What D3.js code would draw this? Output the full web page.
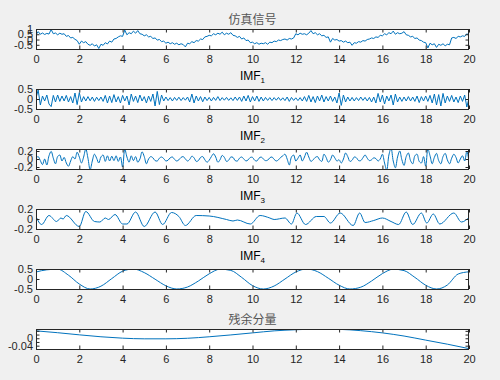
<!DOCTYPE html>
<html><head><meta charset="utf-8">
<script src="https://cdn.jsdelivr.net/npm/d3@7"></script>
<style>html,body{margin:0;padding:0;background:#f0f0f0;} svg{display:block;}</style>
</head><body>
<svg id="chart" width="500" height="380"></svg>
<script>
// ---------- data ----------
const xTicks = [0, 2, 4, 6, 8, 10, 12, 14, 16, 18, 20];
const xTickLabels = ["0","2","4","6","8","10","12","14","16","18","20"];

const sigTitle = "仿真信号";
const sigTicks = [1, 0.5, 0, -0.5];
const sigTickLabels = ["1", "0.5", "0", "-0.5"];
const sigValues = [0.45,0.75,0.50,0.62,0.48,0.58,0.52,0.95,0.55,0.62,
 0.45,0.60,0.50,0.55,0.30,0.38,0.15,0.20,0.02,-0.10,
 -0.45,-0.15,-0.30,-0.20,-0.45,-0.55,-0.40,-0.62,-0.50,-0.85,
 -0.45,-0.55,-0.30,-0.42,-0.15,-0.25,0.05,0.10,0.25,0.35,
 0.30,0.90,0.45,0.65,0.55,0.80,0.60,0.85,0.55,0.50,
 0.35,0.45,0.25,0.30,0.10,0.15,-0.05,0.00,-0.20,-0.15,
 -0.35,-0.25,-0.40,-0.30,-0.45,-0.35,-0.50,-0.40,-0.48,-0.70,
 -0.35,-0.40,-0.20,-0.30,-0.10,-0.15,0.05,0.00,0.25,0.30,
 0.40,0.35,0.55,0.45,0.60,0.50,0.70,0.45,0.60,0.50,
 0.65,0.40,0.35,0.20,0.30,0.05,0.15,-0.10,-0.05,-0.30,
 -0.25,-0.40,-0.30,-0.45,-0.35,-0.40,-0.30,-0.45,-0.25,-0.30,
 -0.15,-0.20,-0.05,-0.10,0.00,0.05,-0.05,0.10,0.05,0.15,
 0.55,0.45,0.60,0.50,0.55,0.45,0.60,0.85,0.55,0.65,
 0.45,0.55,0.35,0.40,0.20,0.25,-0.25,0.10,-0.05,0.00,
 -0.15,-0.10,-0.25,-0.15,-0.30,-0.25,-0.55,-0.30,-0.35,-0.20,
 -0.25,-0.10,-0.15,0.00,0.05,0.15,0.10,0.25,0.20,0.40,
 0.35,0.55,0.45,0.65,0.55,0.80,0.50,0.65,0.55,0.60,
 0.75,0.45,0.40,0.25,0.30,0.10,0.15,-0.05,-0.10,-0.25,
 -0.30,-0.80,-0.35,-0.50,-0.40,-0.75,-0.45,-0.55,-0.40,-0.60,
 -0.45,-0.50,0.15,0.20,0.10,0.30,0.25,0.35,0.30,0.55,
 0.40];

const imf1Ticks = [0.5, 0, -0.5];
const imf1TickLabels = ["0.5", "0", "-0.5"];
const imf1Values = [0.05,0.45,-0.30,0.15,-0.10,0.20,-0.25,-0.38,0.18,-0.15,
 0.20,-0.12,0.15,-0.10,0.18,-0.15,0.12,-0.20,0.30,-0.28,
 0.32,-0.15,0.12,-0.10,0.12,-0.09,0.10,-0.12,0.09,-0.08,
 0.10,-0.12,0.18,-0.20,0.15,-0.18,0.22,-0.15,0.12,-0.20,
 0.18,-0.10,0.15,-0.30,0.25,-0.12,0.15,-0.18,0.20,-0.10,
 0.12,-0.20,0.15,-0.12,0.25,-0.35,0.38,-0.28,0.20,-0.10,
 0.10,-0.08,0.07,-0.10,0.08,-0.07,0.09,-0.08,0.07,-0.06,
 0.10,-0.15,0.25,-0.20,0.15,-0.10,0.12,-0.14,0.10,-0.08,
 0.08,-0.10,0.08,-0.07,0.12,-0.08,0.07,-0.06,0.08,-0.07,
 0.06,-0.08,0.10,-0.07,0.10,-0.12,0.15,-0.10,0.18,-0.15,
 0.12,-0.10,0.15,-0.12,0.10,-0.10,0.08,-0.07,0.07,-0.08,
 0.07,-0.06,0.08,-0.07,0.06,-0.08,0.10,-0.12,0.08,-0.07,
 0.06,-0.08,0.07,-0.10,0.12,-0.12,0.18,-0.15,0.12,-0.18,
 0.15,-0.10,0.20,-0.15,0.12,-0.10,0.15,-0.12,0.10,-0.20,
 0.30,-0.32,0.20,-0.15,0.10,-0.10,0.08,-0.10,0.07,-0.08,
 0.10,-0.07,0.08,-0.10,0.08,-0.15,0.10,-0.20,0.28,-0.15,
 0.20,-0.25,0.15,-0.10,0.20,-0.30,0.25,-0.15,0.10,-0.12,
 0.10,-0.10,0.12,-0.10,0.10,-0.12,0.15,-0.18,0.12,-0.10,
 0.15,-0.12,0.18,-0.20,0.25,-0.30,0.22,-0.35,0.28,-0.20,
 0.15,-0.12,0.18,-0.15,0.10,-0.18,0.15,-0.12,0.20,-0.40,
 0.05];

const imf2Ticks = [0.2, 0, -0.2];
const imf2TickLabels = ["0.2", "0", "-0.2"];
const imf2Values = [0.02,0.06,-0.04,-0.14,0.00,-0.15,0.08,0.19,0.02,-0.12,
 0.06,0.10,-0.05,0.04,-0.10,-0.18,-0.05,0.06,0.00,0.17,
 0.05,-0.10,0.05,0.25,0.02,-0.27,-0.05,0.12,0.02,-0.10,
 0.05,0.10,-0.06,0.08,-0.05,0.07,-0.04,0.08,-0.06,0.05,
 -0.20,0.25,0.05,-0.08,0.08,-0.04,0.06,-0.08,0.00,0.18,
 0.06,-0.12,0.00,0.06,0.03,-0.04,-0.05,0.02,0.05,0.01,
 -0.05,-0.03,0.03,0.05,-0.01,-0.05,-0.02,0.04,0.06,0.00,
 -0.05,-0.01,0.07,0.03,-0.06,-0.04,0.04,0.06,-0.02,-0.08,
 -0.03,0.06,0.13,0.05,-0.08,-0.02,0.09,0.04,-0.06,-0.03,
 0.05,0.04,-0.04,-0.05,0.02,0.05,0.00,-0.05,-0.02,0.04,
 0.04,-0.03,-0.05,0.02,0.05,0.00,-0.04,-0.03,0.03,0.05,
 -0.01,-0.05,-0.02,0.04,0.08,0.12,0.00,-0.15,0.05,0.10,
 -0.05,0.02,0.10,-0.05,0.05,0.17,0.05,-0.06,-0.02,0.04,
 0.06,-0.02,-0.06,0.12,0.04,-0.08,-0.02,0.10,0.03,-0.05,
 -0.02,-0.10,0.00,0.15,0.06,-0.06,-0.03,0.05,0.03,-0.04,
 -0.04,0.03,0.10,0.02,-0.04,-0.02,0.03,0.01,-0.05,0.00,
 0.12,-0.10,-0.28,0.10,0.27,-0.05,-0.22,0.05,0.20,-0.02,
 -0.16,0.06,0.15,-0.04,-0.12,0.08,0.12,-0.06,-0.10,0.06,
 -0.18,0.25,0.08,-0.12,0.04,0.14,-0.04,-0.12,0.06,0.14,
 -0.02,-0.12,0.02,0.12,0.04,-0.10,0.00,0.08,-0.05,0.20,
 -0.08];

const imf3Ticks = [0.2, 0, -0.2];
const imf3TickLabels = ["0.2", "0", "-0.2"];
const imf3X = [0,0.26,0.6,0.95,1.15,1.25,1.4,2.0,2.3,2.7,2.95,3.2,3.35,3.65,4.0,4.2,4.6,5.0,5.5,5.85,
 6.26,6.6,6.9,7.4,8.0,8.8,9.1,9.3,9.9,10.35,10.8,11.0,11.5,11.8,12.05,12.45,12.95,13.3,13.6,14.05,
 14.65,14.95,15.2,15.6,16.0,16.4,16.75,17.1,17.4,17.8,18.05,18.35,18.65,19.3,19.65,20];
const imf3Y = [0.05,-0.11,0.07,-0.05,0.02,0.0,0.07,-0.15,0.15,-0.05,-0.06,0.02,-0.01,0.09,-0.10,-0.10,0.14,-0.15,0.14,-0.11,
 0.13,0.05,-0.13,0.07,0.06,-0.01,-0.04,-0.02,-0.10,0.07,0.02,-0.01,0.02,-0.10,0.12,-0.11,0.05,0.05,-0.08,0.12,
 -0.13,0.12,-0.07,-0.03,0.02,-0.05,-0.11,0.14,-0.11,0.12,-0.08,0.10,-0.10,0.12,-0.06,0.03];

const imf4Ticks = [0.5, 0, -0.5];
const imf4TickLabels = ["0.5", "0", "-0.5"];
const imf4Values = [0.35,0.46,0.49,0.19,-0.25,-0.50,-0.36,0.02,0.39,0.50,
 0.32,-0.01,-0.34,-0.50,-0.40,-0.10,0.26,0.49,0.43,0.08,
 -0.33,-0.50,-0.35,0.00,0.35,0.50,0.37,0.04,-0.31,-0.50,
 -0.41,-0.10,0.27,0.49,0.42,0.08,-0.31,-0.50,-0.30,0.25,
 0.36];

const resTitle = "残余分量";
const resTicks = [0.04, 0.02, 0, -0.02, -0.04];
const resTickLabels = ["", "", "0", "", "-0.04"];
const resValues = [0.040,0.030,0.0185,0.008,0.0005,-0.003,-0.003,0.000,0.008,0.018,
 0.029,0.040,0.046,0.049,0.048,0.041,0.029,0.012,-0.010,-0.032,
 -0.056];

// ---------- layout ----------
const W = 500, H = 380;
const left = 36, plotW = 433, plotH = 20;
const tops = [29, 89, 149, 209, 269, 329];
const lineColor = "#0072BD", axisColor = "#262626";
const fontNum = "'Liberation Sans', Arial, sans-serif";

const panels = [
  {title: sigTitle, cjk: true, xs: sigValues.map((d,i)=>i*0.1), ys: sigValues, domain: [-0.9, 1.0], ticks: sigTicks, labels: sigTickLabels, curve: d3.curveLinear},
  {title: "IMF", sub: "1", xs: imf1Values.map((d,i)=>i*0.1), ys: imf1Values, domain: [-0.5, 0.5], ticks: imf1Ticks, labels: imf1TickLabels, curve: d3.curveLinear},
  {title: "IMF", sub: "2", xs: imf2Values.map((d,i)=>i*0.1), ys: imf2Values, domain: [-0.25, 0.25], ticks: imf2Ticks, labels: imf2TickLabels, curve: d3.curveCatmullRom},
  {title: "IMF", sub: "3", xs: imf3X, ys: imf3Y, domain: [-0.2, 0.2], ticks: imf3Ticks, labels: imf3TickLabels, curve: d3.curveMonotoneX},
  {title: "IMF", sub: "4", xs: imf4Values.map((d,i)=>i*0.5), ys: imf4Values, domain: [-0.5, 0.5], ticks: imf4Ticks, labels: imf4TickLabels, curve: d3.curveMonotoneX},
  {title: resTitle, cjk: true, xs: resValues.map((d,i)=>i), ys: resValues, domain: [-0.058, 0.05], ticks: resTicks, labels: resTickLabels, curve: d3.curveMonotoneX}
];

const svg = d3.select("#chart");
svg.append("rect").attr("width", W).attr("height", H).attr("fill", "#f0f0f0");

const x = d3.scaleLinear().domain([0, 20]).range([0, plotW]);
const tickLen = 3.5;

panels.forEach((p, k) => {
  const top = tops[k];
  const y = d3.scaleLinear().domain(p.domain).range([plotH, 0]);
  const g = svg.append("g").attr("transform", `translate(${left},${top})`);

  g.append("rect").attr("width", plotW).attr("height", plotH).attr("fill", "#fff");

  const clipId = "clip" + k;
  g.append("clipPath").attr("id", clipId).append("rect")
    .attr("x", 0).attr("y", 0).attr("width", plotW).attr("height", plotH);

  const line = d3.line().x((d,i)=>x(p.xs[i])).y(d=>y(d)).curve(p.curve);
  g.append("path").datum(p.ys).attr("d", line)
    .attr("fill", "none").attr("stroke", lineColor).attr("stroke-width", 1)
    .attr("clip-path", `url(#${clipId})`);

  const styleAxis = sel => {
    sel.select(".domain").remove();
    sel.selectAll(".tick line").attr("stroke", axisColor).attr("stroke-width", 1);
    sel.selectAll("text").attr("fill", axisColor).style("font-family", fontNum).style("font-size", "11px");
  };

  g.append("g").attr("transform", `translate(0,${plotH})`)
    .call(d3.axisBottom(x).tickValues(xTicks).tickFormat((d,i)=>xTickLabels[i]).tickSizeInner(-tickLen).tickSizeOuter(0).tickPadding(6))
    .call(styleAxis);
  g.append("g")
    .call(d3.axisTop(x).tickValues(xTicks).tickFormat("").tickSizeInner(-tickLen).tickSizeOuter(0))
    .call(styleAxis);
  g.append("g")
    .call(d3.axisLeft(y).tickValues(p.ticks).tickFormat((d,i)=>p.labels[i]).tickSizeInner(-tickLen).tickSizeOuter(0).tickPadding(3))
    .call(styleAxis);
  g.append("g").attr("transform", `translate(${plotW},0)`)
    .call(d3.axisRight(y).tickValues(p.ticks).tickFormat("").tickSizeInner(-tickLen).tickSizeOuter(0))
    .call(styleAxis);

  g.append("rect").attr("x", 0.5).attr("y", 0.5).attr("width", plotW - 1).attr("height", plotH)
    .attr("fill", "none").attr("stroke", axisColor).attr("stroke-width", 1);

  // title
  const cx = plotW / 2;
  if (p.cjk) {
    g.append("text").attr("x", cx).attr("y", -5).attr("text-anchor", "middle")
      .style("font-family", "'Noto Sans CJK SC', sans-serif").style("font-size", "12px")
      .attr("fill", "#555").text(p.title);
  } else {
    const t = g.append("text").attr("x", cx).attr("y", -9.5).attr("text-anchor", "middle")
      .style("font-family", fontNum).style("font-size", "12px").attr("fill", "#000");
    t.append("tspan").text(p.title);
    t.append("tspan").attr("dy", 3.5).style("font-size", "8px").text(p.sub);
  }
});
</script>
</body></html>
